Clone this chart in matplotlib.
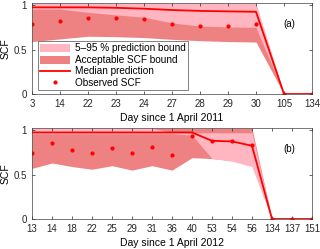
import numpy as np
import matplotlib
matplotlib.use("Agg")
import matplotlib.pyplot as plt

plt.rcParams['font.family'] = ['Liberation Sans', 'DejaVu Sans']

# panel (a): 2011
days_a = ["3", "14", "22", "23", "24", "27", "28", "29", "30", "105", "134"]
pred_lo_a = [0.955, 0.955, 0.92, 0.89, 0.865, 0.80, 0.765, 0.755, 0.75, 0, 0]
pred_hi_a = [1.02, 1.02, 1.02, 1.02, 1.02, 1.02, 1.02, 1.02, 1.02, 0, 0]
acc_lo_a = [0.59, 0.62, 0.65, 0.645, 0.635, 0.615, 0.60, 0.59, 0.585, 0, 0]
acc_hi_a = [1.0, 1.0, 1.0, 1.0, 1.0, 1.0, 1.0, 1.0, 1.0, 0, 0]
median_a = [0.975, 0.975, 0.975, 0.97, 0.96, 0.945, 0.935, 0.93, 0.925, 0, 0]
obs_a = [0.79, 0.82, 0.86, 0.86, 0.845, 0.79, 0.765, 0.77, 0.785, 0, 0]

# panel (b): 2012
days_b = ["13", "14", "18", "22", "25", "29", "31", "36", "40", "53", "54", "56",
          "134", "137", "151"]
pred_lo_b = [0.96, 0.96, 0.96, 0.96, 0.96, 0.96, 0.96, 0.96, 0.944, 0.68, 0.65, 0.59,
             0, 0, 0]
pred_hi_b = [1.02, 1.02, 1.02, 1.02, 1.02, 1.02, 1.02, 0.975, 0.97, 0.97, 0.97, 0.97,
             0, 0, 0]
acc_lo_b = [0.57, 0.63, 0.59, 0.56, 0.60, 0.55, 0.60, 0.55, 0.69, 0.68, 0.66, 0.60,
            0, 0, 0]
acc_hi_b = [1.02] * 12 + [0, 0, 0]
median_b = [0.974, 0.974, 0.974, 0.974, 0.974, 0.974, 0.974, 0.974, 0.974, 0.88, 0.873,
            0.824, 0, 0, 0]
obs_b = [0.745, 0.85, 0.775, 0.745, 0.80, 0.74, 0.81, 0.72, 0.93, 0.88, 0.873, 0.83,
         0, 0, 0]

LIGHT = "#ffb6c1"
DARK = "#ee8282"


def panel(ax, days, plo, phi, alo, ahi, med, obs, xlabel, tag):
    x = np.arange(len(days))
    h_acc = ax.fill_between(x, alo, ahi, color=DARK, lw=0)
    h_pred = ax.fill_between(x, plo, phi, color=LIGHT, lw=0)
    h_med, = ax.plot(x, med, color="red", lw=1.3)
    h_obs, = ax.plot(x, obs, ".", color="red", ms=4)
    ax.set_xlim(0, len(days) - 1)
    ax.set_ylim(0, 1.02)
    ax.set_xticks(x)
    ax.set_xticklabels(days)
    ax.set_yticks([0, 0.5, 1])
    ax.set_yticklabels(["0", "0.5", "1"])
    ax.tick_params(direction="in", length=2.5, width=0.5, labelsize=7, pad=3.5,
                   top=True, right=True, colors="0.15")
    for s in ax.spines.values():
        s.set_linewidth(0.5)
        s.set_color("0.25")
    ax.set_xlabel(xlabel, fontsize=7.5, labelpad=3)
    ax.set_ylabel("SCF", fontsize=7.5, labelpad=2)
    ax.text(0.92, 0.77, tag, transform=ax.transAxes, ha="center", va="center", fontsize=7)
    return h_pred, h_acc, h_med, h_obs


fig = plt.figure(figsize=(3.2, 2.49), dpi=100)
ax1 = fig.add_axes([0.1, 0.6225, 0.875, 0.364])
ax2 = fig.add_axes([0.1, 0.1205, 0.875, 0.364])

hs = panel(ax1, days_a, pred_lo_a, pred_hi_a, acc_lo_a, acc_hi_a, median_a, obs_a,
           "Day since 1 April 2011", "(a)")
panel(ax2, days_b, pred_lo_b, pred_hi_b, acc_lo_b, acc_hi_b, median_b, obs_b,
      "Day since 1 April 2012", "(b)")

leg = ax1.legend(hs, ["5–95 % prediction bound", "Acceptable SCF bound",
                      "Median prediction", "Observed SCF"],
                 loc="upper left", bbox_to_anchor=(0.02, 0.585), fontsize=7.2,
                 handlelength=3.0, handleheight=0.85, labelspacing=0.15,
                 handletextpad=0.5, borderpad=0.25, borderaxespad=0,
                 fancybox=False, framealpha=1, edgecolor="0.3")
leg.get_frame().set_linewidth(0.5)

fig.savefig("out.png", dpi=100)
